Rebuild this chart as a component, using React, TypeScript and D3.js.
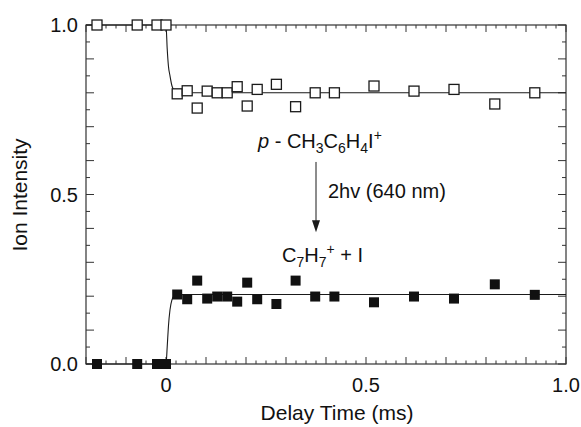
import React from 'react';
import * as d3 from 'd3';

const W = 581;
const H = 427;
const plotLeft = 86;
const plotRight = 566;
const plotTop = 25;
const plotBottom = 364;

const xDomain: [number, number] = [-0.2, 1.0];
const yDomain: [number, number] = [0, 1.0];

const xTickValues = [0, 0.5, 1.0];
const xTickText = ['0', '0.5', '1.0'];
const yTickValues = [0, 0.5, 1.0];
const yTickText = ['0.0', '0.5', '1.0'];

// delay times (ms) of measured points
const delayTimes = [
  -0.1725, -0.072, -0.0225, 0.0,
  0.028, 0.053, 0.078, 0.103, 0.128, 0.153, 0.178, 0.203, 0.228,
  0.276, 0.324, 0.373, 0.421, 0.52, 0.62, 0.72, 0.822, 0.922,
];
// p-CH3C6H4I+ parent ion (open squares)
const parentIon = [
  1.0, 1.0, 1.0, 1.0,
  0.797, 0.806, 0.755, 0.805, 0.8, 0.8, 0.818, 0.761, 0.81,
  0.825, 0.759, 0.8, 0.8, 0.82, 0.805, 0.81, 0.767, 0.8,
];
// C7H7+ fragment (filled squares)
const fragmentIon = [
  0, 0, 0, 0,
  0.205, 0.191, 0.246, 0.193, 0.199, 0.199, 0.184, 0.24, 0.191,
  0.177, 0.246, 0.199, 0.199, 0.182, 0.199, 0.193, 0.235, 0.204,
];

// fitted curves
const fitX = [-0.2, 0, 0.003, 0.006, 0.01, 0.015, 0.02, 0.03, 1.0];
const parentFit = [1.0, 1.0, 0.93, 0.88, 0.85, 0.82, 0.807, 0.8, 0.8];
const fragmentFit = [0, 0, 0.05, 0.11, 0.16, 0.19, 0.2, 0.205, 0.205];

const FONT = '"Liberation Sans", Arial, Helvetica, sans-serif';

export default function App() {
  const x = d3.scaleLinear().domain(xDomain).range([plotLeft, plotRight]);
  const y = d3.scaleLinear().domain(yDomain).range([plotBottom, plotTop]);

  const line = d3
    .line<number>()
    .x((_, i) => x(fitX[i]))
    .y((d) => y(d))
    .curve(d3.curveMonotoneX);

  const xMinor = d3.range(Math.round(xDomain[0] / 0.025), Math.round(xDomain[1] / 0.025) + 1).map((k) => k * 0.025);
  const yMinor = d3.range(0, 21).map((k) => k * 0.05);

  const sq = 10;
  const ink = '#1a1a1a';

  return (
    <svg
      width={W}
      height={H}
      style={{ position: 'absolute', left: 0, top: 0, background: '#fff' }}
      fontFamily={FONT}
    >
      <rect x={0} y={0} width={W} height={H} fill="#fff" />
      {/* ticks */}
      <g stroke="#333" strokeWidth={1}>
        {xMinor.map((v, i) => {
          const major = Math.abs(Math.round(v * 10) - v * 10) < 1e-6;
          const len = major ? 7 : 3.5;
          const px = x(v);
          return (
            <g key={'xt' + i}>
              <line x1={px} x2={px} y1={plotBottom} y2={plotBottom - len} />
              <line x1={px} x2={px} y1={plotTop} y2={plotTop + len} />
            </g>
          );
        })}
        {yMinor.map((v, i) => {
          const major = i % 2 === 0;
          const len = major ? 8 : 4;
          const py = y(v);
          return (
            <g key={'yt' + i}>
              <line x1={plotLeft} x2={plotLeft + len} y1={py} y2={py} />
              <line x1={plotRight} x2={plotRight - len} y1={py} y2={py} />
            </g>
          );
        })}
      </g>
      <rect
        x={plotLeft}
        y={plotTop}
        width={plotRight - plotLeft}
        height={plotBottom - plotTop}
        fill="none"
        stroke="#333"
        strokeWidth={1.2}
      />
      {/* fits */}
      <path d={line(parentFit) || ''} fill="none" stroke={ink} strokeWidth={1.1} />
      <path d={line(fragmentFit) || ''} fill="none" stroke={ink} strokeWidth={1.1} />
      {/* points */}
      {delayTimes.map((t, i) => (
        <rect
          key={'p' + i}
          x={x(t) - sq / 2}
          y={y(parentIon[i]) - sq / 2}
          width={sq}
          height={sq}
          fill="#fff"
          stroke={ink}
          strokeWidth={1.3}
        />
      ))}
      {delayTimes.map((t, i) => (
        <rect
          key={'f' + i}
          x={x(t) - sq / 2}
          y={y(fragmentIon[i]) - sq / 2}
          width={sq}
          height={sq}
          fill="#111"
        />
      ))}
      {/* tick labels */}
      <g fontSize={20} fill="#111">
        {xTickValues.map((v, i) => (
          <text key={'xl' + i} x={x(v)} y={392} textAnchor="middle">
            {xTickText[i]}
          </text>
        ))}
        {yTickValues.map((v, i) => (
          <text key={'yl' + i} x={78} y={y(v) + 7} textAnchor="end">
            {yTickText[i]}
          </text>
        ))}
      </g>
      <text x={337} y={420} fontSize={21} textAnchor="middle" fill="#111">
        Delay Time (ms)
      </text>
      <text transform="translate(27,195) rotate(-90)" fontSize={21} textAnchor="middle" fill="#111">
        Ion Intensity
      </text>
      {/* annotations */}
      <g fontSize={20} fill="#111">
        <text x={x(0.23)} y={y(0.637)}>
          <tspan fontStyle="italic">p</tspan>
          <tspan> - CH</tspan>
          <tspan fontSize={14} dy={5}>3</tspan>
          <tspan dy={-5}>C</tspan>
          <tspan fontSize={14} dy={5}>6</tspan>
          <tspan dy={-5}>H</tspan>
          <tspan fontSize={14} dy={5}>4</tspan>
          <tspan dy={-5}>I</tspan>
          <tspan fontSize={14} dy={-8}>+</tspan>
        </text>
        <text x={x(0.405)} y={y(0.49)}>2hv (640 nm)</text>
        <text x={x(0.29)} y={y(0.301)}>
          <tspan>C</tspan>
          <tspan fontSize={14} dy={5}>7</tspan>
          <tspan dy={-5}>H</tspan>
          <tspan fontSize={14} dy={5}>7</tspan>
          <tspan fontSize={14} dy={-13}>+</tspan>
          <tspan dy={8}> + I</tspan>
        </text>
      </g>
      <line x1={x(0.375)} x2={x(0.375)} y1={y(0.596)} y2={y(0.389) - 10} stroke={ink} strokeWidth={1} />
      <path
        d={`M${x(0.375) - 4},${y(0.389) - 12} L${x(0.375) + 4},${y(0.389) - 12} L${x(0.375)},${y(0.389)} Z`}
        fill={ink}
      />
    </svg>
  );
}
